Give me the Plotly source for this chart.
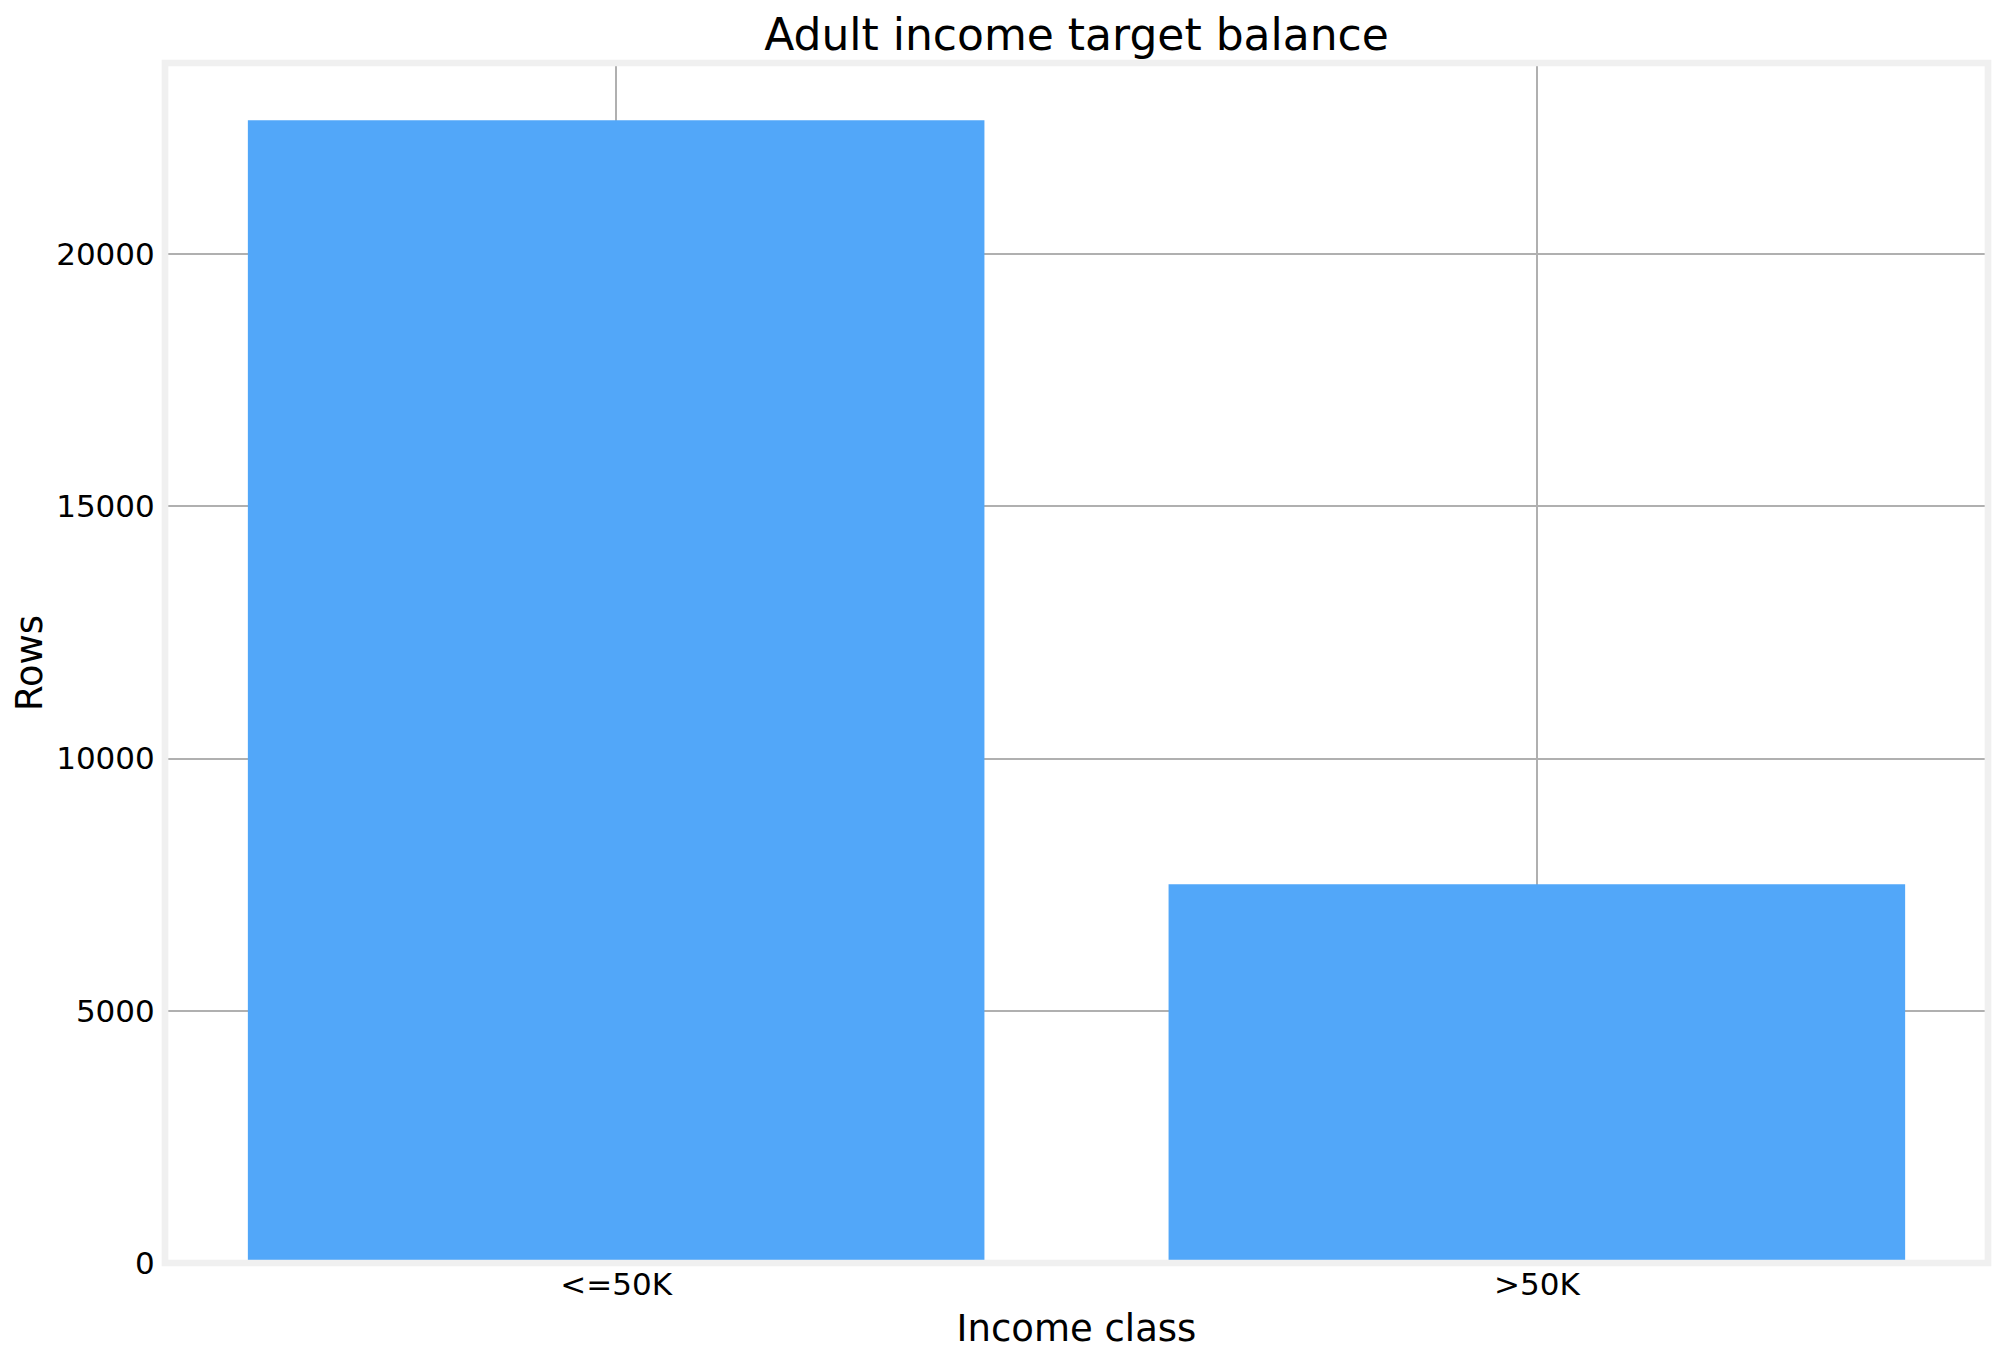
import plotly.graph_objects as go

# adult dataset, rows per income class (after dropping missing values)
income_class = ["<=50K", ">50K"]
row_counts = [22654, 7508]

y_ticks = [0, 5000, 10000, 15000, 20000]
y_tick_labels = ["0", "5000", "10000", "15000", "20000"]

fig = go.Figure()
fig.add_trace(go.Bar(x=[0, 1], y=row_counts, width=0.8,
                     marker=dict(color="#52a7f9", line=dict(width=0))))

# light grey box around the axes, like the matplotlib spines
fig.add_shape(type="rect", xref="paper", yref="paper", x0=0, x1=1, y0=0, y1=1,
              line=dict(color="#f0f0f0", width=6.7), layer="above")

# page body has an 8px margin, so everything is shifted up/left by 8
fig.update_layout(
    width=2000, height=1364,
    margin=dict(l=157, r=20, t=55, b=109),
    paper_bgcolor="white", plot_bgcolor="white",
    font=dict(family="DejaVu Sans", color="black", size=31),
    title=dict(text="Adult income target balance", x=0.5, xref="paper",
               xanchor="center", y=1 - 27 / 1364, yanchor="middle",
               font=dict(size=44)),
    showlegend=False,
)
fig.update_xaxes(
    range=[-0.49, 1.49], tickvals=[0, 1], ticktext=income_class,
    showgrid=True, gridcolor="#b0b0b0", gridwidth=1.6,
    showline=False, ticks="", zeroline=False,
    title=dict(text="Income class", font=dict(size=37), standoff=14),
    tickfont=dict(size=31),
)
fig.update_yaxes(
    range=[0, 23787], tickvals=y_ticks, ticktext=y_tick_labels,
    showgrid=True, gridcolor="#b0b0b0", gridwidth=1.6,
    showline=False, ticks="outside", ticklen=3, tickcolor="rgba(0,0,0,0)",
    zeroline=False,
    title=dict(text="Rows", font=dict(size=37), standoff=10),
    tickfont=dict(size=31),
)

fig.write_html("out.html")
